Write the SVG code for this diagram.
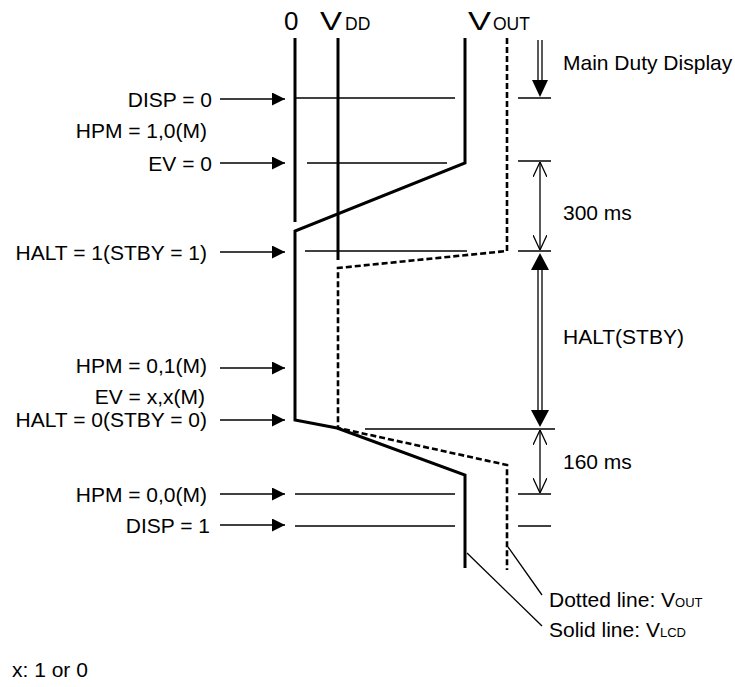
<svg xmlns="http://www.w3.org/2000/svg" width="735" height="687" viewBox="0 0 735 687">
<style>
text{font-family:"Liberation Sans",Arial,Helvetica,sans-serif;fill:#000}
.lbl{font-size:21px}
.hdr{font-size:26px}
.sub{font-size:17.5px}
.sm{font-size:13px}
.thick{fill:none;stroke:#000;stroke-width:3}
.dash{fill:none;stroke:#000;stroke-width:2.6;stroke-dasharray:6 3}
.thin{fill:none;stroke:#000;stroke-width:1.3}
.head{fill:#000;stroke:none}
</style>
<defs>
<marker id="ah" viewBox="0 0 13 13" refX="13" refY="6.5" markerWidth="13" markerHeight="13" markerUnits="userSpaceOnUse" orient="auto">
<path d="M0,0 L13,6.5 L0,13 Z" fill="#000"/>
</marker>
<marker id="oa" viewBox="0 0 15 14" refX="15" refY="7" markerWidth="15" markerHeight="14" markerUnits="userSpaceOnUse" orient="auto-start-reverse">
<path d="M0,0 L15,7 L0,14" fill="none" stroke="#000" stroke-width="1.3"/>
</marker>
</defs>

<g id="headers">
<text class="hdr" x="284" y="30">0</text>
<text class="hdr" x="320" y="30" textLength="22" lengthAdjust="spacingAndGlyphs">V</text>
<text class="sub" x="345" y="30">DD</text>
<text class="hdr" x="468" y="30" textLength="23" lengthAdjust="spacingAndGlyphs">V</text>
<text class="sub" x="493" y="30">OUT</text>
</g>

<g id="waveforms">
<line class="thick" x1="295" y1="38" x2="295" y2="222"/>
<line class="thick" x1="338" y1="38" x2="338" y2="260"/>
<polyline class="thick" points="465,38 465,163 295,231 295,420 337,428 465,475 465,568"/>
<polyline class="dash" points="507,38 507,251 338,268 338,428 507,465 507,570"/>
</g>

<g id="event-lines">
<line class="thin" x1="296" y1="98" x2="455" y2="98"/>
<line class="thin" x1="307" y1="163" x2="447" y2="163"/>
<line class="thin" x1="305" y1="251" x2="467" y2="251"/>
<line class="thin" x1="365" y1="429" x2="555" y2="429"/>
<line class="thin" x1="295" y1="494" x2="455" y2="494"/>
<line class="thin" x1="295" y1="526" x2="455" y2="526"/>
<line class="thin" x1="518" y1="98" x2="551" y2="98"/>
<line class="thin" x1="518" y1="161" x2="551" y2="161"/>
<line class="thin" x1="518" y1="251" x2="551" y2="251"/>
<line class="thin" x1="518" y1="494" x2="551" y2="494"/>
<line class="thin" x1="518" y1="526" x2="551" y2="526"/>
</g>

<g id="labels">
<text class="lbl" x="212" y="107" text-anchor="end">DISP = 0</text>
<text class="lbl" x="207" y="138" text-anchor="end">HPM = 1,0(M)</text>
<text class="lbl" x="212" y="171" text-anchor="end">EV = 0</text>
<text class="lbl" x="207" y="260" text-anchor="end">HALT = 1(STBY = 1)</text>
<text class="lbl" x="207" y="373" text-anchor="end">HPM = 0,1(M)</text>
<text class="lbl" x="205" y="404" text-anchor="end">EV = x,x(M)</text>
<text class="lbl" x="207" y="427" text-anchor="end">HALT = 0(STBY = 0)</text>
<text class="lbl" x="207" y="502" text-anchor="end">HPM = 0,0(M)</text>
<text class="lbl" x="210" y="533" text-anchor="end">DISP = 1</text>
</g>

<g id="connectors">
<line class="thin" x1="220" y1="99" x2="285" y2="99" marker-end="url(#ah)"/>
<line class="thin" x1="220" y1="163" x2="285" y2="163" marker-end="url(#ah)"/>
<line class="thin" x1="220" y1="252" x2="285" y2="252" marker-end="url(#ah)"/>
<line class="thin" x1="220" y1="368" x2="285" y2="368" marker-end="url(#ah)"/>
<line class="thin" x1="220" y1="420" x2="285" y2="420" marker-end="url(#ah)"/>
<line class="thin" x1="220" y1="494" x2="285" y2="494" marker-end="url(#ah)"/>
<line class="thin" x1="220" y1="525" x2="285" y2="525" marker-end="url(#ah)"/>
<line class="thin" x1="467" y1="553" x2="542" y2="626"/>
<line class="thin" x1="508" y1="547" x2="542" y2="595"/>
</g>

<g id="dimensions">
<line class="thin" x1="538" y1="40" x2="538" y2="81"/>
<line class="thin" x1="542" y1="40" x2="542" y2="81"/>
<polygon class="head" points="532,80 548,80 540,97"/>
<line class="thin" x1="540" y1="162" x2="540" y2="250" marker-start="url(#oa)" marker-end="url(#oa)"/>
<polygon class="head" points="531,270 549,270 540,253"/>
<line class="thin" x1="538" y1="269" x2="538" y2="411"/>
<line class="thin" x1="542" y1="269" x2="542" y2="411"/>
<polygon class="head" points="531,410 549,410 540,427"/>
<line class="thin" x1="540" y1="430" x2="540" y2="493" marker-start="url(#oa)" marker-end="url(#oa)"/>
<text class="lbl" x="563" y="70">Main Duty Display</text>
<text class="lbl" x="563" y="220">300 ms</text>
<text class="lbl" x="563" y="344">HALT(STBY)</text>
<text class="lbl" x="563" y="469">160 ms</text>
</g>

<g id="legend">
<text class="lbl" x="549" y="607">Dotted line: V<tspan class="sm">OUT</tspan></text>
<text class="lbl" x="549" y="637">Solid line: V<tspan class="sm">LCD</tspan></text>
<text class="lbl" x="12" y="677">x: 1 or 0</text>
</g>
</svg>
